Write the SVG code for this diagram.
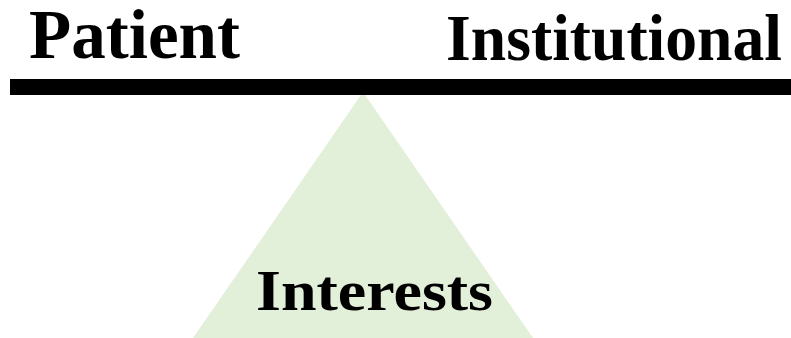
<svg xmlns="http://www.w3.org/2000/svg" width="791" height="338" viewBox="0 0 791 338">
  <style>
    .label { font-family: "Liberation Serif", "Times New Roman", serif; font-weight: bold; fill: #000000; }
    .beam { fill: #000000; }
    .fulcrum { fill: #E2EFD9; }
  </style>
  <rect width="791" height="338" fill="#FFFFFF"/>

  <!-- fulcrum -->
  <g id="fulcrum">
    <polygon class="fulcrum" points="363,92 533,338 193,338"/>
    <text class="label" x="256" y="310" font-size="57" textLength="237" lengthAdjust="spacingAndGlyphs">Interests</text>
  </g>

  <!-- balance beam -->
  <g id="beam">
    <rect class="beam" x="10" y="79" width="781" height="16"/>
  </g>

  <g id="patient">
    <text class="label" x="29" y="58" font-size="70" textLength="211" lengthAdjust="spacingAndGlyphs">Patient</text>
  </g>

  <g id="institutional">
    <text class="label" x="446" y="60" font-size="66" textLength="336" lengthAdjust="spacingAndGlyphs">Institutional</text>
  </g>
</svg>
